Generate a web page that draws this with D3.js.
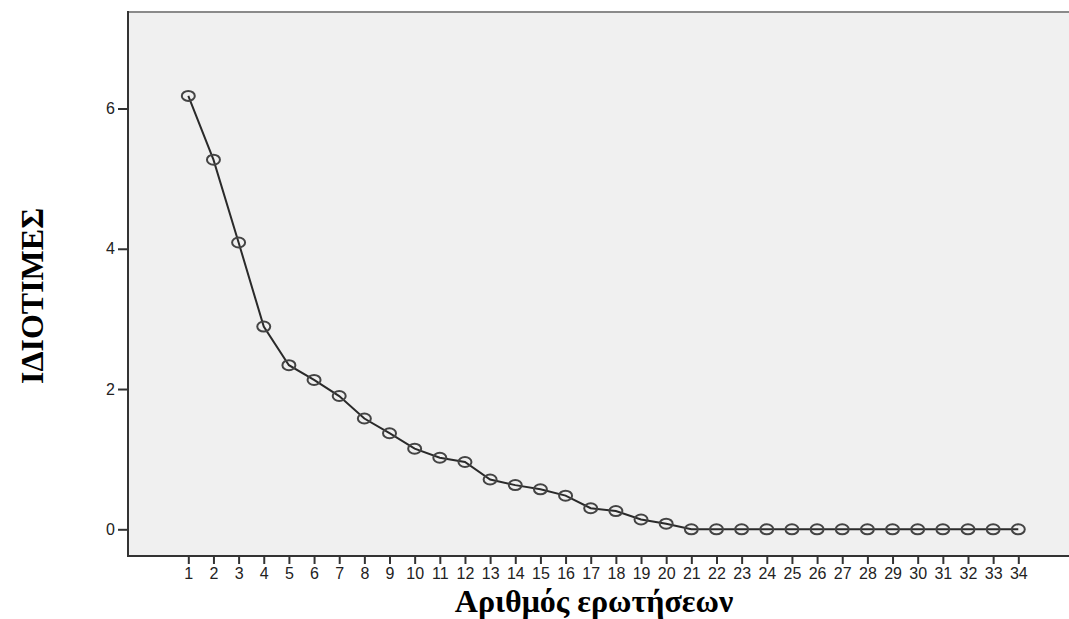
<html>
    <head>
        <meta charset="utf-8">
        <title>Scree plot</title>
        <style>
            body { margin: 0; background: #ffffff; }
            .tick text { font-family: "Liberation Sans", Arial, sans-serif; font-size: 16px; fill: #222; }
            .title { font-family: "Liberation Serif", "Times New Roman", serif; font-weight: bold; fill: #000; }
        </style>
    </head>
    <body>
        <svg></svg>
        <script src="https://d3js.org/d3.v7.min.js"></script>
        <script>
            // data
            const components = d3.range(1, 35);
            const eigenvalues = [6.18, 5.27, 4.09, 2.89, 2.34, 2.13, 1.90, 1.58, 1.37, 1.15,
                                 1.02, 0.96, 0.71, 0.63, 0.57, 0.48, 0.30, 0.26, 0.14, 0.08,
                                 0, 0, 0, 0, 0, 0, 0, 0, 0, 0, 0, 0, 0, 0];
            const yTicks = [0, 2, 4, 6];
            const xTitle = "Αριθμός ερωτήσεων";
            const yTitle = "ΙΔΙΟΤΙΜΕΣ";

            const width = 1069, height = 619;
            const svg = d3.select("svg").attr("width", width).attr("height", height);

            // plot frame
            const frame = {left: 128, right: 1069, top: 12, bottom: 556};

            const x = d3.scaleLinear().domain([1, 34]).range([188.3, 1018.3]);
            const y = d3.scaleLinear().domain([0, 6]).range([529.3, 108.5]);

            svg.append("rect")
                .attr("x", frame.left).attr("y", frame.top)
                .attr("width", frame.right - frame.left)
                .attr("height", frame.bottom - frame.top)
                .attr("fill", "#f0f0f0");

            // top border (lighter)
            svg.append("line")
                .attr("x1", frame.left).attr("x2", frame.right)
                .attr("y1", frame.top).attr("y2", frame.top)
                .attr("stroke", "#8a8a8a").attr("stroke-width", 2);

            // x axis
            const xAxis = svg.append("g")
                .attr("transform", "translate(0," + frame.bottom + ")")
                .call(d3.axisBottom(x).tickValues(components).tickSize(8).tickPadding(4).tickFormat(d3.format("d")));
            xAxis.select(".domain").remove();
            xAxis.selectAll(".tick line").attr("stroke", "#333").attr("stroke-width", 2);
            xAxis.append("line")
                .attr("x1", frame.left - 1).attr("x2", frame.right)
                .attr("stroke", "#333").attr("stroke-width", 2);

            // y axis
            const yAxis = svg.append("g")
                .attr("transform", "translate(" + frame.left + ",0)")
                .call(d3.axisLeft(y).tickValues(yTicks).tickSize(10).tickPadding(3).tickFormat(d3.format("d")));
            yAxis.select(".domain").remove();
            yAxis.selectAll(".tick line").attr("stroke", "#333").attr("stroke-width", 2);
            yAxis.append("line")
                .attr("y1", frame.top - 1).attr("y2", frame.bottom + 1)
                .attr("stroke", "#333").attr("stroke-width", 2);

            // line
            const line = d3.line()
                .x(function(d, i) { return x(components[i]); })
                .y(function(d) { return y(d); });

            svg.append("path")
                .datum(eigenvalues)
                .attr("d", line)
                .attr("fill", "none")
                .attr("stroke", "#2a2a2a")
                .attr("stroke-width", 2);

            // markers
            svg.append("g")
                .selectAll("ellipse")
                .data(eigenvalues)
                .join("ellipse")
                .attr("cx", function(d, i) { return x(components[i]); })
                .attr("cy", function(d) { return y(d); })
                .attr("rx", 6.5)
                .attr("ry", 5)
                .attr("fill", "none")
                .attr("stroke", "#444")
                .attr("stroke-width", 2);

            // axis titles
            svg.append("text")
                .attr("class", "title")
                .attr("x", 594)
                .attr("y", 612)
                .attr("text-anchor", "middle")
                .style("font-size", "32px")
                .text(xTitle);

            svg.append("text")
                .attr("class", "title")
                .attr("transform", "translate(43,296) rotate(-90)")
                .attr("text-anchor", "middle")
                .style("font-size", "32px")
                .text(yTitle);
        </script>
    </body>
</html>
